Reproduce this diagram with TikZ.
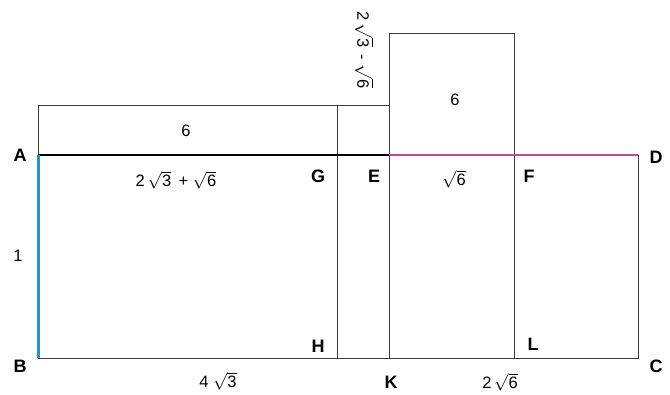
\documentclass[tikz,border=0pt]{standalone}
\usepackage{fontspec}
\setmainfont{Liberation Sans}
\definecolor{lblue}{RGB}{30,150,210}
\definecolor{lmag}{RGB}{200,70,150}
\definecolor{lgray}{RGB}{60,60,60}
\newcommand{\rt}[1]{$\sqrt{\mbox{#1}}$}
\begin{document}
\begin{tikzpicture}[x=1pt,y=-1pt,
  thin line/.style={draw=lgray,line width=0.8pt},
  ptlabel/.style={font=\fontsize{18}{18}\selectfont\bfseries,inner sep=0pt},
  dimlabel/.style={font=\fontsize{16.5}{16.5}\selectfont,inner sep=0pt}]
\useasboundingbox (0,0) rectangle (670,395);
% points
\coordinate (A) at (38,155);
\coordinate (B) at (38,358);
\coordinate (C) at (638,358);
\coordinate (D) at (638,155);
\coordinate (E) at (389,155);
\coordinate (F) at (514,155);
\coordinate (G) at (337,155);
\coordinate (H) at (337,358);
\coordinate (K) at (389,358);
\coordinate (L) at (514,358);
\coordinate (A1) at (38,105);
\coordinate (G1) at (337,105);
\coordinate (E1) at (389,105);
\coordinate (E2) at (389,33);
\coordinate (F2) at (514,33);
% thin lines
\draw[thin line] (B) -- (C) -- (D);
\draw[thin line] (A) -- (A1) -- (E1);
\draw[thin line] (G1) -- (H);
\draw[thin line] (K) -- (E2) -- (F2) -- (L);
% colored lines
\draw[lmag,line width=1.8pt] (E) -- (D);
\draw[black,line width=2.6pt] (A) -- (E);
\draw[lblue,line width=3pt] (A) -- (B);
% point labels
\node[ptlabel] (la) at (20,155) {A};
\node[ptlabel] (lb) at (20,366) {B};
\node[ptlabel] (lc) at (656,366) {C};
\node[ptlabel] (ld) at (656,157) {D};
\node[ptlabel] (lg) at (318,176) {G};
\node[ptlabel] (le) at (374,176) {E};
\node[ptlabel] (lf) at (529,176) {F};
\node[ptlabel] (lh) at (318,346) {H};
\node[ptlabel] (lk) at (391,382) {K};
\node[ptlabel] (ll) at (533,344) {L};
% dimension labels
\node[dimlabel] (d1) at (186,131) {6};
\node[dimlabel] (d2) at (176,180) {2\,\rt{3} \,+ \rt{6}};
\node[dimlabel] (d3) at (454,179) {\rt{6}};
\node[dimlabel] (d4) at (455,100) {6};
\node[dimlabel] (d5) at (18,256) {1};
\node[dimlabel] (d6) at (218,381) {4 \rt{3}};
\node[dimlabel] (d7) at (500,382) {2\,\rt{6}};
\node[dimlabel,rotate=-90] (d8) at (364,50) {2\,\rt{3} \,- \rt{6}};
\end{tikzpicture}
\end{document}
